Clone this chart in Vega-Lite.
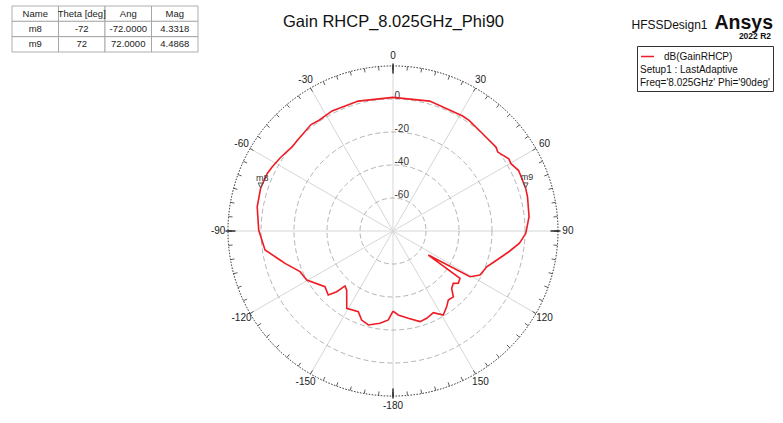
{
  "$schema": "https://vega.github.io/schema/vega-lite/v6.json",
  "width": 783,
  "height": 423,
  "autosize": {"type": "none"},
  "padding": 0,
  "background": "white",
  "config": {"view": {"stroke": null}, "font": "Liberation Sans"},
  "title": {"text": "Gain RHCP_8.025GHz_Phi90", "fontSize": 16.5, "fontWeight": "normal", "font": "Liberation Sans", "color": "#111", "anchor": "middle", "frame": "group", "offset": -43, "baseline": "alphabetic", "dx": 2},
  "datasets": {
    "curve": [
      {"theta": -180, "db": -31.5}, {"theta": -177, "db": -26}, {"theta": -172, "db": -23.5}, {"theta": -165.3, "db": -21.1},
      {"theta": -160.6, "db": -22.8}, {"theta": -156.7, "db": -26.8}, {"theta": -149.1, "db": -25.4}, {"theta": -141.9, "db": -34.5},
      {"theta": -138.9, "db": -35.8}, {"theta": -137.2, "db": -29.8}, {"theta": -134.7, "db": -24.8}, {"theta": -129.3, "db": -26.7},
      {"theta": -119.6, "db": -19.9}, {"theta": -113.6, "db": -18.5}, {"theta": -106.7, "db": -11.7}, {"theta": -104.4, "db": -9.3},
      {"theta": -98.4, "db": -1.6}, {"theta": -89.6, "db": 1.4}, {"theta": -79.9, "db": 3.6}, {"theta": -72, "db": 4.33},
      {"theta": -65.4, "db": 3.8}, {"theta": -62.1, "db": 2.9}, {"theta": -56.7, "db": 1.4}, {"theta": -50.2, "db": -0.4},
      {"theta": -46.6, "db": -0.1}, {"theta": -37.6, "db": 1.4}, {"theta": -33.9, "db": 0.7}, {"theta": -26.9, "db": 1.6},
      {"theta": -15, "db": 1.5}, {"theta": 0, "db": 1.0}, {"theta": 15.8, "db": 1.8}, {"theta": 31.2, "db": 1.5},
      {"theta": 34.7, "db": 1.3}, {"theta": 40.7, "db": 0.3}, {"theta": 50.9, "db": 0.5}, {"theta": 53, "db": -0.5},
      {"theta": 58.1, "db": 2.7}, {"theta": 60.3, "db": 2.3}, {"theta": 64.3, "db": 4.5}, {"theta": 68.6, "db": 4.3},
      {"theta": 72, "db": 4.49}, {"theta": 75.8, "db": 4.1}, {"theta": 84, "db": 2.9}, {"theta": 91, "db": 0.5},
      {"theta": 95.5, "db": -3}, {"theta": 100, "db": -8.5}, {"theta": 103, "db": -12}, {"theta": 106.5, "db": -15.5},
      {"theta": 110.9, "db": -19.2}, {"theta": 116.8, "db": -20.9}, {"theta": 120.7, "db": -25.7}, {"theta": 124.2, "db": -54.1},
      {"theta": 125.2, "db": -30.3}, {"theta": 128.7, "db": -29.3}, {"theta": 131, "db": -31.6}, {"theta": 134.3, "db": -30.3},
      {"theta": 137.5, "db": -25.9}, {"theta": 141.3, "db": -26.4}, {"theta": 144.6, "db": -23.8}, {"theta": 149.1, "db": -20.7},
      {"theta": 153.7, "db": -24.8}, {"theta": 158.9, "db": -23.3}, {"theta": 163.4, "db": -22.7}, {"theta": 170.1, "db": -26.3},
      {"theta": 176.4, "db": -29}, {"theta": 180, "db": -31.5}
    ],
    "rings": [{"db": -60}, {"db": -40}, {"db": -20}, {"db": 0}],
    "outer": [{"db": 20}],
    "spokes": [{"a": 0}, {"a": 30}, {"a": 60}, {"a": 90}, {"a": 120}, {"a": 150}],
    "ticks": [
      {"a": 0}, {"a": 5}, {"a": 10}, {"a": 15}, {"a": 20}, {"a": 25}, {"a": 30}, {"a": 35}, {"a": 40}, {"a": 45}, {"a": 50}, {"a": 55},
      {"a": 60}, {"a": 65}, {"a": 70}, {"a": 75}, {"a": 80}, {"a": 85}, {"a": 90}, {"a": 95}, {"a": 100}, {"a": 105}, {"a": 110}, {"a": 115},
      {"a": 120}, {"a": 125}, {"a": 130}, {"a": 135}, {"a": 140}, {"a": 145}, {"a": 150}, {"a": 155}, {"a": 160}, {"a": 165}, {"a": 170}, {"a": 175},
      {"a": 180}, {"a": 185}, {"a": 190}, {"a": 195}, {"a": 200}, {"a": 205}, {"a": 210}, {"a": 215}, {"a": 220}, {"a": 225}, {"a": 230}, {"a": 235},
      {"a": 240}, {"a": 245}, {"a": 250}, {"a": 255}, {"a": 260}, {"a": 265}, {"a": 270}, {"a": 275}, {"a": 280}, {"a": 285}, {"a": 290}, {"a": 295},
      {"a": 300}, {"a": 305}, {"a": 310}, {"a": 315}, {"a": 320}, {"a": 325}, {"a": 330}, {"a": 335}, {"a": 340}, {"a": 345}, {"a": 350}, {"a": 355}
    ],
    "majorTicks": [{"a": 0}, {"a": 90}, {"a": 180}, {"a": 270}],
    "angleLabels": [{"a": 0}, {"a": 30}, {"a": 60}, {"a": 90}, {"a": 120}, {"a": 150}, {"a": -180}, {"a": -150}, {"a": -120}, {"a": -90}, {"a": -60}, {"a": -30}],
    "markers": [{"name": "m8", "theta": -72, "mag": 4.3318}, {"name": "m9", "theta": 72, "mag": 4.4868}],
    "brand": [{"t": "HFSSDesign1"}],
    "brandBig": [{"t": "Ansys"}],
    "brandVer": [{"t": "2022 R2"}],
    "table": [
      {"row": "head", "col": "Name", "text": "Name"}, {"row": "head", "col": "Theta [deg]", "text": "Theta [deg]"}, {"row": "head", "col": "Ang", "text": "Ang"}, {"row": "head", "col": "Mag", "text": "Mag"},
      {"row": "m8", "col": "Name", "text": "m8"}, {"row": "m8", "col": "Theta [deg]", "text": "-72"}, {"row": "m8", "col": "Ang", "text": "-72.0000"}, {"row": "m8", "col": "Mag", "text": "4.3318"},
      {"row": "m9", "col": "Name", "text": "m9"}, {"row": "m9", "col": "Theta [deg]", "text": "72"}, {"row": "m9", "col": "Ang", "text": "72.0000"}, {"row": "m9", "col": "Mag", "text": "4.4868"}
    ]
  },
  "layer": [
    {
      "encoding": {
        "x": {"field": "px", "type": "quantitative", "scale": {"domain": [-238.18, 236.36], "nice": false, "zero": false}, "axis": null},
        "y": {"field": "py", "type": "quantitative", "scale": {"domain": [-116.36, 140], "nice": false, "zero": false}, "axis": null}
      },
      "layer": [
        {
          "data": {"name": "spokes"},
          "transform": [
            {"calculate": "100 * sin(datum.a * PI / 180)", "as": "px"},
            {"calculate": "100 * cos(datum.a * PI / 180)", "as": "py"},
            {"calculate": "-datum.px", "as": "px2"},
            {"calculate": "-datum.py", "as": "py2"}
          ],
          "mark": {"type": "rule", "color": "#d6d6d6", "strokeWidth": 1},
          "encoding": {"x2": {"field": "px2"}, "y2": {"field": "py2"}}
        },
        {
          "data": {"name": "rings"},
          "transform": [
            {"calculate": "datum.db + 80", "as": "r"},
            {"calculate": "0", "as": "px"},
            {"calculate": "0", "as": "py"}
          ],
          "mark": {"type": "point", "shape": "circle", "filled": false, "stroke": "#ababab", "strokeWidth": 0.9, "strokeDash": [5, 3], "opacity": 1},
          "encoding": {"size": {"field": "r", "type": "quantitative", "scale": {"type": "pow", "exponent": 2, "domain": [0, 100], "range": [0, 108900], "nice": false}, "legend": null}}
        },
        {
          "data": {"name": "outer"},
          "transform": [
            {"calculate": "datum.db + 80", "as": "r"},
            {"calculate": "0", "as": "px"},
            {"calculate": "0", "as": "py"}
          ],
          "mark": {"type": "point", "shape": "circle", "filled": false, "stroke": "#222", "strokeWidth": 1, "strokeDash": [1.5, 1.5], "opacity": 1},
          "encoding": {"size": {"field": "r", "type": "quantitative", "scale": {"type": "pow", "exponent": 2, "domain": [0, 100], "range": [0, 108900], "nice": false}, "legend": null}}
        },
        {
          "data": {"name": "ticks"},
          "transform": [
            {"calculate": "100 * sin(datum.a * PI / 180)", "as": "px"},
            {"calculate": "100 * cos(datum.a * PI / 180)", "as": "py"},
            {"calculate": "97.6 * sin(datum.a * PI / 180)", "as": "px2"},
            {"calculate": "97.6 * cos(datum.a * PI / 180)", "as": "py2"}
          ],
          "mark": {"type": "rule", "color": "#333", "strokeWidth": 0.8},
          "encoding": {"x2": {"field": "px2"}, "y2": {"field": "py2"}}
        },
        {
          "data": {"name": "majorTicks"},
          "transform": [
            {"calculate": "101.5 * sin(datum.a * PI / 180)", "as": "px"},
            {"calculate": "101.5 * cos(datum.a * PI / 180)", "as": "py"},
            {"calculate": "95.5 * sin(datum.a * PI / 180)", "as": "px2"},
            {"calculate": "95.5 * cos(datum.a * PI / 180)", "as": "py2"}
          ],
          "mark": {"type": "rule", "color": "#111", "strokeWidth": 1.3},
          "encoding": {"x2": {"field": "px2"}, "y2": {"field": "py2"}}
        },
        {
          "data": {"name": "rings"},
          "transform": [
            {"calculate": "0", "as": "px"},
            {"calculate": "datum.db + 80", "as": "py"}
          ],
          "mark": {"type": "text", "align": "left", "baseline": "middle", "dx": 1.5, "dy": -3, "fontSize": 10, "color": "#333"},
          "encoding": {"text": {"field": "db", "type": "nominal"}}
        },
        {
          "data": {"name": "angleLabels"},
          "transform": [
            {"calculate": "106 * sin(datum.a * PI / 180)", "as": "px"},
            {"calculate": "106 * cos(datum.a * PI / 180)", "as": "py"}
          ],
          "mark": {"type": "text", "align": "center", "baseline": "middle", "fontSize": 10, "color": "#222"},
          "encoding": {"text": {"field": "a", "type": "nominal"}}
        },
        {
          "data": {"name": "curve"},
          "transform": [
            {"calculate": "(datum.db + 80) * sin(datum.theta * PI / 180)", "as": "px"},
            {"calculate": "(datum.db + 80) * cos(datum.theta * PI / 180)", "as": "py"}
          ],
          "mark": {"type": "line", "strokeWidth": 1.6},
          "encoding": {
            "order": {"field": "theta", "type": "quantitative"},
            "color": {
              "datum": "dB(GainRHCP)",
              "scale": {"range": ["#ee1c24"]},
              "legend": {
                "orient": "none", "legendX": 637, "legendY": 46,
                "title": ["Setup1 : LastAdaptive", "Freq='8.025GHz' Phi='90deg'"],
                "titleOrient": "bottom", "titleAnchor": "start", "titleFontWeight": "normal", "titleFontSize": 10, "titleFont": "Liberation Sans", "titleColor": "#111", "titleLineHeight": 12.6, "titlePadding": 3,
                "labelFontSize": 10, "labelFont": "Liberation Sans", "labelColor": "#111", "labelOffset": 9,
                "symbolType": "stroke", "symbolStrokeWidth": 1.5, "symbolSize": 170,
                "padding": 3, "strokeColor": "#333", "fillColor": "white", "cornerRadius": 0
              }
            }
          }
        },
        {
          "data": {"name": "markers"},
          "transform": [
            {"calculate": "(datum.mag + 80) * sin(datum.theta * PI / 180)", "as": "px"},
            {"calculate": "(datum.mag + 80) * cos(datum.theta * PI / 180)", "as": "py"}
          ],
          "mark": {"type": "point", "shape": "M-1,-2L1,-2L0,0Z", "size": 25, "filled": false, "stroke": "#555", "strokeWidth": 1, "opacity": 1}
        },
        {
          "data": {"name": "markers"},
          "transform": [
            {"calculate": "(datum.mag + 80) * sin(datum.theta * PI / 180)", "as": "px"},
            {"calculate": "(datum.mag + 80) * cos(datum.theta * PI / 180)", "as": "py"}
          ],
          "mark": {"type": "text", "align": "center", "baseline": "middle", "dx": 1.5, "dy": -10.5, "fontSize": 9, "color": "#333"},
          "encoding": {"text": {"field": "name", "type": "nominal"}}
        },
        {
          "data": {"name": "brand"},
          "transform": [{"calculate": "190.6", "as": "px"}, {"calculate": "122.2", "as": "py"}],
          "mark": {"type": "text", "align": "right", "baseline": "alphabetic", "fontSize": 12, "color": "#111"},
          "encoding": {"text": {"field": "t", "type": "nominal"}}
        },
        {
          "data": {"name": "brandBig"},
          "transform": [{"calculate": "230.3", "as": "px"}, {"calculate": "122.7", "as": "py"}],
          "mark": {"type": "text", "align": "right", "baseline": "alphabetic", "fontSize": 19.5, "fontWeight": "bold", "color": "#111"},
          "encoding": {"text": {"field": "t", "type": "nominal"}}
        },
        {
          "data": {"name": "brandVer"},
          "transform": [{"calculate": "229.1", "as": "px"}, {"calculate": "116.3", "as": "py"}],
          "mark": {"type": "text", "align": "right", "baseline": "alphabetic", "fontSize": 8.5, "fontWeight": "bold", "color": "#111"},
          "encoding": {"text": {"field": "t", "type": "nominal"}}
        }
      ]
    },
    {
      "data": {"name": "table"},
      "encoding": {
        "x": {"field": "col", "type": "nominal", "scale": {"domain": ["Name", "Theta [deg]", "Ang", "Mag"], "range": [12, 198], "paddingInner": 0, "paddingOuter": 0}, "axis": null},
        "y": {"field": "row", "type": "nominal", "scale": {"domain": ["head", "m8", "m9"], "range": [6, 52], "paddingInner": 0, "paddingOuter": 0}, "axis": null}
      },
      "layer": [
        {"mark": {"type": "rect", "fill": "white", "stroke": "#9a9a9a", "strokeWidth": 0.8}},
        {"mark": {"type": "text", "fontSize": 9.5, "color": "#222", "align": "center", "baseline": "middle"}, "encoding": {"text": {"field": "text", "type": "nominal"}}}
      ]
    }
  ],
  "resolve": {"scale": {"x": "independent", "y": "independent"}}
}
